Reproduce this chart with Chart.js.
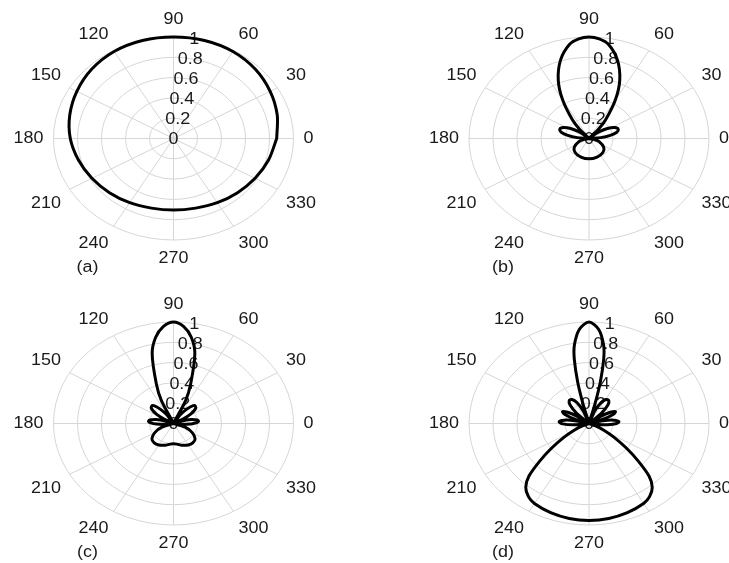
<!DOCTYPE html>
<html lang="en">
<head>
<meta charset="UTF-8" />
<title>Polar patterns</title>
<script src="https://cdn.jsdelivr.net/npm/chart.js"></script>
<style>
    body {
        margin: 0;
        background: #fff;
        width: 729px;
        height: 563px;
        overflow: hidden;
    }
    .panel {
        position: absolute;
    }
</style>
</head>
<body>
<div class="panel" id="pa" style="left:0;top:0;width:364px;height:281px"><canvas id="ca"></canvas></div>
<div class="panel" id="pb" style="left:364px;top:0;width:365px;height:281px"><canvas id="cb"></canvas></div>
<div class="panel" id="pc" style="left:0;top:282px;width:364px;height:281px"><canvas id="cc"></canvas></div>
<div class="panel" id="pd" style="left:364px;top:282px;width:365px;height:281px"><canvas id="cd"></canvas></div>

<script>
    // tick labels
    const angleTicks = [0, 30, 60, 90, 120, 150, 180, 210, 240, 270, 300, 330];
    const radialTicks = [0, 0.2, 0.4, 0.6, 0.8, 1];
    const panelNames = ['(a)', '(b)', '(c)', '(d)'];

    // (a) angle in degrees, normalised radius
    const thetaA = [0, 15, 30, 45, 60, 75, 90, 105, 120, 135, 150, 165, 180,
        195, 210, 225, 240, 255, 270, 285, 300, 315, 330, 345, 360];
    const rA = [0.86, 0.895, 0.93, 0.965, 0.99, 1.0, 1.0, 1.0, 0.99, 0.965, 0.93, 0.895, 0.86,
        0.82, 0.785, 0.755, 0.73, 0.71, 0.705, 0.71, 0.73, 0.755, 0.785, 0.82, 0.86];

    // (b)
    const thetaB = [0, 5, 10, 15, 20, 25, 30, 35, 40, 45, 49, 53, 60, 66, 73, 80, 85, 90,
        95, 100, 107, 114, 120, 127, 131, 135, 140, 145, 150, 155, 160, 165, 170, 175, 180,
        190, 200, 215, 230, 250, 270, 290, 310, 325, 340, 350, 360];
    const rB = [0, 0.1, 0.18, 0.24, 0.26, 0.25, 0.21, 0.15, 0.08, 0, 0.12, 0.23, 0.44, 0.63, 0.81, 0.94, 0.985, 1.0,
        0.985, 0.94, 0.81, 0.63, 0.44, 0.23, 0.12, 0, 0.08, 0.15, 0.21, 0.25, 0.26, 0.24, 0.18, 0.1, 0,
        0.04, 0.09, 0.15, 0.18, 0.195, 0.2, 0.195, 0.18, 0.15, 0.09, 0.04, 0];

    // (c)
    const thetaC = [0, 2, 6, 10, 15, 20, 25, 29, 33, 38, 43, 47, 52, 57, 62,
        66, 70, 75.5, 80, 85, 90, 95, 100, 104.5, 110, 114, 118,
        123, 128, 133, 137, 142, 147, 151, 155, 160, 165, 170, 174, 178, 182, 186, 190,
        200, 210, 220, 230, 240, 252, 262, 270, 278, 288, 300, 310, 320, 330, 340, 350,
        354, 358, 360];
    const rC = [0.165, 0.19, 0.21, 0.2, 0.15, 0.08, 0, 0.09, 0.17, 0.23, 0.25, 0.24, 0.18, 0.1, 0,
        0.25, 0.42, 0.71, 0.86, 0.96, 1.0, 0.96, 0.86, 0.71, 0.42, 0.25, 0,
        0.1, 0.18, 0.24, 0.25, 0.23, 0.17, 0.09, 0, 0.08, 0.15, 0.2, 0.21, 0.19, 0.14, 0.07, 0,
        0.1, 0.18, 0.235, 0.25, 0.245, 0.225, 0.205, 0.2, 0.205, 0.225, 0.245, 0.25, 0.235, 0.18, 0.1, 0,
        0.07, 0.14, 0.165];

    // (d)
    const thetaD = [0, 4, 9, 13, 17, 20, 24, 28, 32, 36, 40, 44, 49, 54, 59, 64, 69, 74,
        75.5, 77, 79, 81, 85, 90, 95, 99, 101, 103, 104.5, 106,
        111, 116, 121, 126, 131, 136, 140, 144, 148, 152, 156, 160, 163,
        167, 171, 176, 181, 186, 190, 198,
        203, 208, 213, 218, 222, 226, 230, 235, 240, 250, 260, 270,
        280, 290, 300, 305, 310, 314, 318, 322, 327, 332, 337, 342,
        350, 354, 358, 360];
    const rD = [0.23, 0.25, 0.21, 0.12, 0, 0.12, 0.22, 0.25, 0.21, 0.12, 0, 0.14, 0.24, 0.28, 0.275, 0.23, 0.13, 0,
        0.2, 0.42, 0.64, 0.78, 0.93, 1.0, 0.93, 0.78, 0.64, 0.42, 0.2, 0,
        0.13, 0.23, 0.275, 0.28, 0.24, 0.14, 0, 0.12, 0.21, 0.25, 0.22, 0.12, 0,
        0.12, 0.21, 0.25, 0.22, 0.12, 0, 0,
        0.06, 0.14, 0.25, 0.4, 0.55, 0.72, 0.82, 0.88, 0.91, 0.935, 0.95, 0.955,
        0.95, 0.935, 0.91, 0.88, 0.82, 0.72, 0.55, 0.4, 0.25, 0.14, 0.06, 0,
        0, 0.12, 0.2, 0.23];

    // panel layout: canvas size and pole position in pixels
    const RX = 120, RY = 101.5;      // pixels for r = 1
    const STRETCH = 1.12;            // text is wider than tall in the original
    const panels = [
        { canvas: 'ca', theta: thetaA, r: rA, w: 364, h: 281, cx: 173.5, cy: 138.5 },
        { canvas: 'cb', theta: thetaB, r: rB, w: 365, h: 281, cx: 225, cy: 138.5 },
        { canvas: 'cc', theta: thetaC, r: rC, w: 364, h: 281, cx: 173.5, cy: 141.5 },
        { canvas: 'cd', theta: thetaD, r: rD, w: 365, h: 281, cx: 225, cy: 141.5 }
    ];

    function stretchText(ctx, str, px, py) {
        ctx.save();
        ctx.translate(px, py);
        ctx.scale(STRETCH, 1);
        ctx.fillText(str, 0, 0);
        ctx.restore();
    }

    const polarGrid = {
        id: 'polarGrid',
        beforeDatasetsDraw(chart, args, opts) {
            const { ctx } = chart;
            const x = chart.scales.x, y = chart.scales.y;
            const cx = x.getPixelForValue(0), cy = y.getPixelForValue(0);
            const rx = x.getPixelForValue(1) - cx, ry = cy - y.getPixelForValue(1);

            ctx.save();
            ctx.strokeStyle = '#d6d6d6';
            ctx.lineWidth = 1;
            radialTicks.slice(1).forEach(t => {
                ctx.beginPath();
                ctx.ellipse(cx, cy, rx * t, ry * t, 0, 0, 2 * Math.PI);
                ctx.stroke();
            });
            angleTicks.forEach(a => {
                const rad = a * Math.PI / 180;
                ctx.beginPath();
                ctx.moveTo(cx, cy);
                ctx.lineTo(cx + rx * Math.cos(rad), cy - ry * Math.sin(rad));
                ctx.stroke();
            });

            ctx.fillStyle = '#1a1a1a';
            ctx.font = '16px "Liberation Sans", Arial, sans-serif';
            ctx.textAlign = 'center';
            ctx.textBaseline = 'middle';

            // angle labels just outside the outer ring
            angleTicks.forEach(a => {
                const rad = a * Math.PI / 180;
                const c = Math.cos(rad), s = Math.sin(rad);
                const hw = ctx.measureText(String(a)).width * STRETCH / 2;
                const sx = Math.abs(c) < 0.01 ? 0 : Math.sign(c);
                const sy = Math.abs(s) < 0.01 ? 0 : -Math.sign(s);
                const px = cx + rx * c + 10 * c + hw * sx;
                const py = cy - ry * s - 10 * s + 7 * sy + (s < -0.01 ? 2 : 0);
                stretchText(ctx, String(a), px, py);
            });

            // radius labels along the 80 degree spoke
            const k = 80 * Math.PI / 180;
            radialTicks.forEach(t => {
                stretchText(ctx, String(t), cx + rx * t * Math.cos(k), cy - ry * t * Math.sin(k) + 1.5);
            });

            stretchText(ctx, opts.name, cx - 86, cy + 129);
            ctx.restore();
        }
    };

    panels.forEach((p, i) => {
        const pts = p.theta.map((t, j) => ({
            x: p.r[j] * Math.cos(t * Math.PI / 180),
            y: p.r[j] * Math.sin(t * Math.PI / 180)
        }));
        new Chart(document.getElementById(p.canvas), {
            type: 'scatter',
            data: {
                datasets: [{
                    data: pts,
                    showLine: true,
                    borderColor: '#000',
                    borderWidth: 3,
                    pointRadius: 0,
                    tension: 0.3,
                    borderJoinStyle: 'round',
                    borderCapStyle: 'round',
                    fill: false
                }]
            },
            options: {
                animation: false,
                responsive: true,
                maintainAspectRatio: false,
                layout: { padding: 0 },
                events: [],
                plugins: {
                    legend: { display: false },
                    tooltip: { enabled: false },
                    polarGrid: { name: panelNames[i] }
                },
                scales: {
                    x: { type: 'linear', display: false, min: -p.cx / RX, max: (p.w - p.cx) / RX },
                    y: { type: 'linear', display: false, min: -(p.h - p.cy) / RY, max: p.cy / RY }
                }
            },
            plugins: [polarGrid]
        });
    });
</script>
</body>
</html>
